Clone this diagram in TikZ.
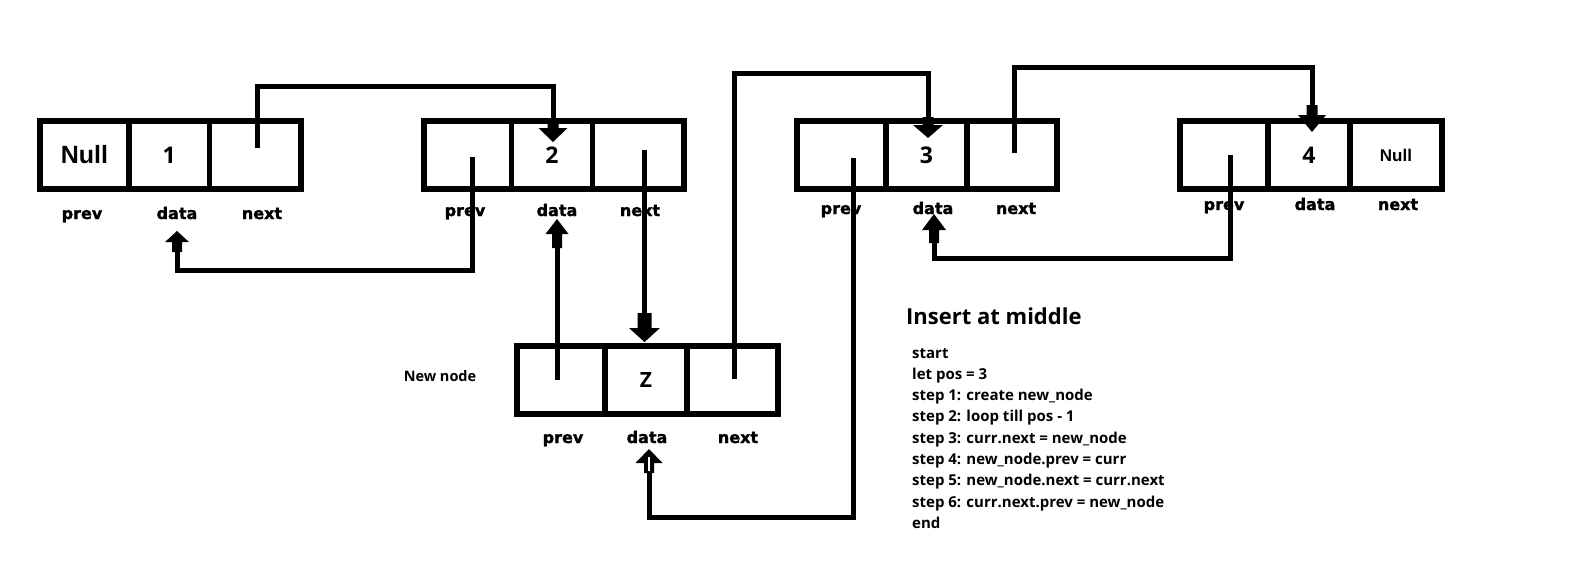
\documentclass[tikz,border=0pt]{standalone}
\usepackage{fontspec}
\usetikzlibrary{calc}
\setmainfont{Liberation Sans}
\newfontfamily\djv{DejaVu Sans Bold}[FakeBold=1.6]
\newfontfamily\osans{Open Sans}
\tikzset{
  pics/blkdown/.style n args={4}{code={
    \fill (0,0) -- (-#2/2,-#1) -- (-#3/2,-#1) -- (-#3/2,-#1-#4) -- (#3/2,-#1-#4) -- (#3/2,-#1) -- (#2/2,-#1) -- cycle;}},
  pics/blkup/.style n args={4}{code={
    \fill (0,0) -- (-#2/2,#1) -- (-#3/2,#1) -- (-#3/2,#1+#4) -- (#3/2,#1+#4) -- (#3/2,#1) -- (#2/2,#1) -- cycle;}},
  pics/blkhollow/.style n args={4}{code={
    \fill (0,0) -- (-#2/2,#1) -- (-#3/2,#1) -- (-#3/2,#1+#4) -- (#3/2,#1+#4) -- (#3/2,#1) -- (#2/2,#1) -- cycle;
    \draw[white, line width=1.5pt] (0,#1-6) -- (0,#1+#4-2);}}
}
\begin{document}
\begin{tikzpicture}[x=1pt,y=-1pt,
  cell/.style={draw, line width=5.5pt, minimum height=68pt, inner sep=0pt,
    font=\osans\bfseries\fontsize{23}{26}\selectfont},
  bignull/.style={font=\bfseries\fontsize{25}{28}\selectfont},
  smallnull/.style={font=\bfseries\fontsize{17}{20}\selectfont},
  lbl/.style={anchor=base, inner sep=0pt, font=\djv\fontsize{16}{19}\selectfont},
  conn/.style={line width=5pt, line join=miter},
  txt/.style={anchor=base west, inner sep=0pt, font=\osans\bfseries\fontsize{15}{18}\selectfont}]
\fill[white] (0,0) rectangle (1586,579);
\useasboundingbox (0,0) rectangle (1586,579);

% list node 1
\node[cell, bignull, minimum width=89pt]   (c1p) at (84.5,155)   {Null};
\node[cell, minimum width=80.5pt]          (c1d) at (169.25,155) {1};
\node[cell, minimum width=91.5pt]          (c1n) at (255.25,155) {};
% list node 2
\node[cell, minimum width=87.5pt] (c2p) at (467.75,155) {};
\node[cell, minimum width=81pt]   (c2d) at (552,155)    {2};
\node[cell, minimum width=91.5pt] (c2n) at (638.25,155) {};
% list node 3
\node[cell, minimum width=89pt] (c3p) at (841.5,155) {};
\node[cell, minimum width=81pt] (c3d) at (926.5,155) {3};
\node[cell, minimum width=90pt] (c3n) at (1012,155)  {};
% list node 4
\node[cell, minimum width=88pt] (c4p) at (1224,155) {};
\node[cell, minimum width=82pt] (c4d) at (1309,155) {4};
\node[cell, smallnull, minimum width=92pt] (c4n) at (1396,155) {Null};
% new node
\node[cell, minimum width=88pt] (czp) at (561,380)   {};
\node[cell, font=\osans\fontsize{21}{24}\selectfont\bfseries, minimum width=82pt] (czd) at (646,380) {Z};
\node[cell, minimum width=91pt] (czn) at (732.5,380) {};

% field labels
\node[lbl] (l1p) at (82,219)  {prev};
\node[lbl] (l1d) at (177,219) {data};
\node[lbl] (l1n) at (262,219) {next};
\node[lbl] (l2p) at (465,216) {prev};
\node[lbl] (l2d) at (557,216) {data};
\node[lbl] (l2n) at (640,216) {next};
\node[lbl] (l3p) at (841,214) {prev};
\node[lbl] (l3d) at (933,214) {data};
\node[lbl] (l3n) at (1016,214) {next};
\node[lbl] (l4p) at (1224,210) {prev};
\node[lbl] (l4d) at (1315,210) {data};
\node[lbl] (l4n) at (1398,210) {next};
\node[lbl] (lzp) at (563,443) {prev};
\node[lbl] (lzd) at (647,443) {data};
\node[lbl] (lzn) at (738,443) {next};

\node[font=\osans\bfseries\fontsize{14.5}{17}\selectfont, inner sep=0pt] (newlbl) at (440,376) {New node};

% connector end points
\coordinate (s1) at (257,148);   \coordinate (t1) at (553,142);
\coordinate (s2) at (472,157);   \coordinate (t2) at (177,231);
\coordinate (s3) at (644.5,150); \coordinate (t3) at (644.5,342);
\coordinate (s4) at (557,380);   \coordinate (t4) at (557,219);
\coordinate (s5) at (734,379);   \coordinate (t5) at (928,138);
\coordinate (s6) at (853,158);   \coordinate (t6) at (649,449);
\coordinate (s7) at (1014,153);  \coordinate (t7) at (1312,132);
\coordinate (s8) at (1230,155);  \coordinate (t8) at (934,214);

% connectors
\draw[conn] (s1) -- (257,86) -- (553,86) -- ($(t1)+(0,-14)$);
\draw[conn] (s2) -- (472,270) -- (177,270) -- ($(t2)+(0,11)$);
\draw[conn] (s3) -- ($(t3)+(0,-14)$);
\draw[conn] (s4) -- ($(t4)+(0,14)$);
\draw[conn] (s5) -- (734,73) -- (928,73) -- ($(t5)+(0,-13)$);
\draw[conn] (s6) -- (853,517) -- (649,517) -- ($(t6)+(0,14)$);
\draw[conn] (s7) -- (1014,67) -- (1312,67) -- ($(t7)+(0,-17)$);
\draw[conn] (s8) -- (1230,258) -- (934,258) -- ($(t8)+(0,16)$);

% arrow heads
\pic at (t1) {blkdown={14}{29}{11}{10}};
\pic at (t2) {blkup={11}{24}{10}{10}};
\pic at (t3) {blkdown={14}{31}{14}{15}};
\pic at (t4) {blkup={15}{23}{10}{14}};
\pic at (t5) {blkdown={13}{30}{11}{8}};
\pic at (t6) {blkhollow={14}{27}{10}{10}};
\pic at (t7) {blkdown={17}{28}{11}{10}};
\pic at (t8) {blkup={16}{24}{10}{13}};

% algorithm text
\node[anchor=base west, inner sep=0pt, font=\osans\bfseries\fontsize{22}{26}\selectfont] (title) at (906,324) {Insert at middle};
\foreach \t [count=\i] in {start, let pos = 3, step 1: create new\_node, step 2: loop till pos - 1,
  step 3: curr.next = new\_node, step 4: new\_node.prev = curr, step 5: new\_node.next = curr.next,
  step 6: curr.next.prev = new\_node, end}
  \node[txt] (alg\i) at ({912},{358+(\i-1)*21.3}) {\t};
\end{tikzpicture}
\end{document}
